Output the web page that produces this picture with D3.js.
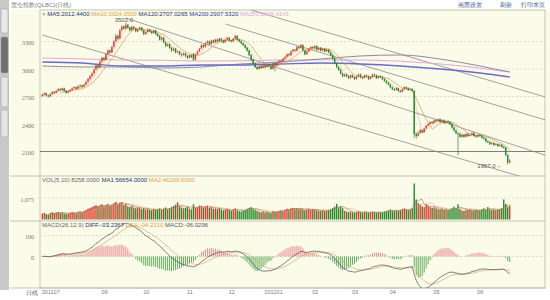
<!DOCTYPE html>
<html><head><meta charset="utf-8">
<script src="https://cdn.jsdelivr.net/npm/d3@7"></script>
<style>
html,body{margin:0;padding:0;background:#fff;}
svg{display:block;font-family:"Liberation Sans",Arial,sans-serif;}
</style></head><body>
<svg id="chart" width="550" height="300"></svg>
<script>
// ---- daily quotes ----
const openP = [
2705,2718,2738,2712,2702,2728,2752,2742,2762,2782,
2772,2788,2762,2742,2757,2772,2792,2802,2787,2812,
2822,2808,2832,2862,2893,2922,2955,2995,3042,3022,
3082,3124,3102,3164,3204,3182,3244,3304,3364,3334,
3424,3464,3442,3484,3452,3422,3462,3442,3412,3432,
3452,3422,3382,3402,3432,3412,3392,3422,3382,3362,
3322,3342,3292,3252,3272,3232,3202,3222,3182,3192,
3162,3152,3172,3142,3122,3152,3168,3102,3162,3192,
3222,3262,3242,3282,3302,3272,3312,3292,3322,3302,
3332,3312,3292,3322,3342,3312,3302,3332,3362,3322,
3302,3282,3262,3232,3202,3152,3102,3062,3022,3002,
3032,3012,3042,3022,3052,3032,3002,3062,3042,3072,
3092,3082,3112,3132,3162,3152,3192,3212,3202,3242,
3232,3262,3202,3162,3192,3222,3242,3232,3252,3212,
3232,3202,3222,3192,3212,3182,3152,3112,3062,3022,
2992,2952,2922,2942,2922,2902,2932,2912,2892,2922,
2942,2912,2902,2932,2922,2892,2912,2942,2932,2902,
2922,2912,2892,2872,2852,2832,2802,2782,2772,2792,
2762,2752,2782,2802,2792,2772,2782,2760,2292,2272,
2302,2332,2312,2352,2382,2402,2422,2412,2442,2432,
2452,2422,2442,2412,2432,2422,2402,2362,2332,2302,
2292,2262,2282,2262,2292,2272,2282,2302,2272,2262,
2282,2272,2252,2242,2212,2202,2182,2192,2172,2182,
2162,2172,2152,2142,2062,1982];
const highP = [
2730,2745,2742,2720,2735,2760,2758,2770,2790,2790,
2798,2795,2770,2765,2780,2800,2812,2808,2820,2832,
2828,2840,2870,2900,2935,2965,3005,3055,3050,3095,
3135,3130,3172,3215,3210,3255,3315,3380,3372,3435,
3478,3475,3502,3490,3460,3472,3465,3450,3442,3462,
3460,3430,3410,3442,3438,3420,3430,3428,3392,3370,
3352,3350,3300,3280,3278,3240,3232,3230,3200,3200,
3170,3180,3180,3150,3160,3158,3172,3170,3200,3230,
3270,3268,3290,3312,3310,3320,3320,3330,3330,3340,
3340,3322,3330,3350,3350,3320,3340,3372,3368,3330,
3310,3290,3270,3240,3210,3160,3110,3070,3030,3040,
3040,3050,3048,3060,3060,3040,3070,3070,3080,3100,
3100,3120,3140,3170,3170,3200,3220,3220,3250,3250,
3272,3270,3210,3200,3230,3250,3250,3260,3260,3240,
3240,3230,3230,3220,3220,3190,3160,3120,3070,3030,
3000,2960,2950,2950,2930,2940,2940,2920,2930,2950,
2950,2920,2940,2940,2930,2920,2950,2950,2940,2930,
2930,2920,2900,2880,2860,2840,2810,2790,2800,2800,
2770,2790,2810,2812,2800,2790,2790,2770,2310,2320,
2345,2340,2360,2390,2410,2430,2430,2450,2450,2460,
2460,2450,2450,2440,2440,2430,2410,2370,2340,2310,
2300,2290,2290,2300,2300,2290,2310,2310,2280,2290,
2290,2280,2260,2250,2220,2210,2200,2200,2190,2190,
2180,2180,2160,2150,2070,2020];
const lowP = [
2695,2710,2700,2688,2695,2720,2728,2735,2755,2760,
2765,2752,2730,2735,2750,2765,2782,2775,2780,2800,
2795,2800,2825,2850,2880,2910,2940,2985,3005,3010,
3070,3090,3095,3150,3170,3175,3235,3290,3320,3325,
3410,3430,3432,3440,3410,3412,3430,3400,3400,3425,
3410,3370,3372,3395,3400,3380,3385,3370,3350,3310,
3310,3280,3240,3245,3220,3190,3195,3170,3172,3150,
3135,3145,3130,3110,3115,3120,3090,3095,3155,3185,
3215,3230,3235,3275,3260,3265,3280,3285,3290,3295,
3300,3280,3285,3315,3300,3290,3295,3325,3310,3290,
3270,3250,3220,3190,3140,3090,3050,3010,2990,2995,
3000,3005,3010,3015,3020,2990,2995,2975,3035,3065,
3070,3075,3105,3125,3140,3145,3185,3190,3195,3220,
3225,3195,3150,3155,3185,3215,3220,3225,3200,3205,
3190,3195,3180,3185,3170,3140,3100,3050,3010,2980,
2940,2910,2912,2910,2890,2895,2900,2880,2885,2915,
2900,2890,2895,2910,2880,2885,2905,2920,2890,2895,
2900,2880,2860,2840,2820,2790,2770,2760,2765,2750,
2740,2745,2775,2780,2760,2765,2750,2250,2240,2262,
2295,2300,2305,2345,2375,2395,2400,2405,2420,2425,
2410,2415,2400,2405,2410,2390,2350,2320,2290,2060,
2250,2250,2250,2255,2260,2262,2275,2262,2250,2255,
2260,2240,2230,2200,2190,2170,2175,2160,2165,2150,
2150,2140,2130,2050,1957,1970];
const closeP = [
2720,2735,2710,2700,2725,2750,2740,2760,2780,2770,
2790,2760,2740,2755,2770,2790,2800,2785,2810,2820,
2805,2830,2860,2890,2920,2950,2990,3040,3020,3080,
3120,3100,3160,3200,3180,3240,3300,3360,3330,3420,
3460,3440,3480,3450,3420,3460,3440,3410,3430,3450,
3420,3380,3400,3430,3410,3390,3420,3380,3360,3320,
3340,3290,3250,3270,3230,3200,3220,3180,3190,3160,
3150,3170,3140,3120,3150,3130,3100,3160,3190,3220,
3260,3240,3280,3300,3270,3310,3290,3320,3300,3330,
3310,3290,3320,3340,3310,3300,3330,3360,3320,3300,
3280,3260,3230,3200,3150,3100,3060,3020,3000,3030,
3010,3040,3020,3050,3030,3000,3060,3040,3070,3090,
3080,3110,3130,3160,3150,3190,3210,3200,3240,3230,
3260,3200,3160,3190,3220,3240,3230,3250,3210,3230,
3200,3220,3190,3210,3180,3150,3110,3060,3020,2990,
2950,2920,2940,2920,2900,2930,2910,2890,2920,2940,
2910,2900,2930,2920,2890,2910,2940,2930,2900,2920,
2910,2890,2870,2850,2830,2800,2780,2770,2790,2760,
2750,2780,2800,2790,2770,2780,2760,2290,2270,2300,
2330,2310,2350,2380,2400,2420,2410,2440,2430,2450,
2420,2440,2410,2430,2420,2400,2360,2330,2300,2290,
2260,2280,2260,2290,2270,2280,2300,2270,2260,2280,
2270,2250,2240,2210,2200,2180,2190,2170,2180,2160,
2170,2150,2140,2060,1980,2000];
const volume = [
300,340,280,250,320,360,310,340,370,320,
350,300,270,290,330,370,350,310,380,410,
370,430,480,540,580,620,680,720,640,700,
760,660,720,780,680,740,820,880,760,840,
860,720,780,660,620,680,600,560,600,580,
520,560,500,540,480,460,520,480,500,560,
480,540,600,500,560,620,680,740,860,680,
600,560,580,640,540,500,760,580,620,700,
660,600,640,700,580,620,540,560,520,560,
500,460,480,540,480,440,500,560,460,420,
400,440,480,540,580,620,540,480,440,400,
360,400,350,380,340,320,430,370,400,430,
460,440,490,540,500,560,580,540,570,520,
560,500,460,500,540,480,520,490,460,440,
430,460,420,450,480,520,580,640,780,600,
660,560,440,400,370,390,360,340,370,400,
360,340,390,370,330,360,390,370,340,360,
370,340,400,430,460,500,450,420,460,430,
480,520,560,500,460,510,580,1800,1000,820,
740,660,620,760,680,620,580,610,560,520,
500,530,480,510,460,490,580,640,560,760,
520,460,430,490,470,510,460,440,490,470,
460,510,560,490,620,520,470,510,460,490,
520,580,1000,780,640,700];

// long moving averages, sampled every 20 sessions
const longIdx   = [0, 20, 40, 60, 80, 100, 120, 140, 160, 180, 200, 220, 235];
const ma120Vals = [3033, 3022, 3022, 3011, 3022, 3055, 3076, 3109, 3142, 3153, 3109, 3033, 2967];
const ma200Vals = [3076, 3065, 3033, 3033, 3044, 3044, 3055, 3065, 3055, 3033, 3000, 2956, 2913];
const ma250Vals = [3120, 3110, 3098, 3095, 3087, 3090, 3098, 3100, 3098, 3085, 3055, 3010, 2967];

// channel lines: [startIndex, startValue, endIndex, endValue]
const channels = [
  [0, 3371, 243, 1811],
  [42, 3556, 254, 2051],
  [92, 3491, 253, 2444],
  [105, 3644, 253, 2694]
];
const supportLevel = 2100;

// axis ticks
const priceTicks = [3300, 3000, 2700, 2400, 2100];
const volTicks = [1075];
const macdTicks = [100, 0];
const dateTickIdx = [4, 31, 52, 74, 95, 116, 137, 157, 176, 198, 220];
const dateTickLabel = ["201107", "09", "10", "11", "12", "201201", "02", "03", "04", "05", "06"];

const peakText = "3502.0";
const lowText = "1957.0";

// ---- layout ----
const svg = d3.select("#chart");
const L = 40, R = 545;
const mainTop = 10, mainBot = 176, volBot = 221, macdBot = 288;
const N = closeP.length;
const idx = d3.range(N);

const x = d3.scaleBand().domain(idx).range([41, 511]).padding(0.3);
const cx = i => x(i) + x.bandwidth() / 2;
const xl = d3.scaleLinear().domain([0, N - 1]).range([cx(0), cx(N - 1)]);

const y = d3.scaleLinear().domain([2100, 3300]).range([151.5, 41.5]);
const yv = d3.scaleLinear().domain([0, 1075]).range([219.5, 198]);
const ym = d3.scaleLinear().domain([0, 100]).range([256.5, 235.5]);

const UP = "#e23a2e", DOWN = "#24892a";

// page background
svg.append("rect").attr("width", 550).attr("height", 300).attr("fill", "#ffffff");
svg.append("rect").attr("x", 10).attr("y", 9).attr("width", 540).attr("height", 279).attr("fill", "#fbfbea");

// left side tab strip
svg.append("rect").attr("x", 0).attr("y", 0).attr("width", 9).attr("height", 290).attr("fill", "#c9c9c9");
const tabs = [[9, 33, "#e9e9e9"], [37, 73, "#6f6f6f"], [77, 107, "#e4e4e4"], [110, 137, "#e4e4e4"]];
tabs.forEach(t => svg.append("rect").attr("x", 1).attr("y", t[0]).attr("width", 7).attr("height", t[1] - t[0]).attr("rx", 1.5).attr("fill", t[2]).attr("stroke", "#9a9a9a").attr("stroke-width", 0.5));

// title and links
svg.append("text").attr("x", 11).attr("y", 7).attr("font-size", 6).attr("fill", "#777").text("宽仓指数(QLBC)(日线)");
[["画面设置", 458], ["刷新", 500], ["打印本页", 521]].forEach(d =>
  svg.append("text").attr("x", d[1]).attr("y", 7).attr("font-size", 6).attr("fill", "#3d5d8f").text(d[0]));

// panel frames
const frame = svg.append("g").attr("fill", "none").attr("stroke", "#b8b8a8").attr("stroke-width", 0.8);
frame.append("rect").attr("x", L).attr("y", mainTop).attr("width", R - L).attr("height", macdBot - mainTop);
[mainBot, volBot].forEach(v => frame.append("line").attr("x1", 10).attr("x2", R).attr("y1", v).attr("y2", v));
frame.append("line").attr("x1", 10).attr("x2", R).attr("y1", macdBot).attr("y2", macdBot);

// gridlines
const grid = svg.append("g").attr("stroke", "#cfcfbf").attr("stroke-width", 0.6).attr("stroke-dasharray", "2,2");
priceTicks.filter(v => v !== supportLevel).forEach(v => grid.append("line").attr("x1", L).attr("x2", R).attr("y1", y(v)).attr("y2", y(v)));
volTicks.forEach(v => grid.append("line").attr("x1", L).attr("x2", R).attr("y1", yv(v)).attr("y2", yv(v)));
macdTicks.forEach(v => grid.append("line").attr("x1", L).attr("x2", R).attr("y1", ym(v)).attr("y2", ym(v)));
svg.append("line").attr("x1", L).attr("x2", R).attr("y1", y(supportLevel)).attr("y2", y(supportLevel))
  .attr("stroke", "#6e6e6e").attr("stroke-width", 0.9);

// axes
function leftAxis(scale, ticks, fmt) {
  const g = svg.append("g").attr("transform", `translate(${L - 3},0)`)
    .call(d3.axisLeft(scale).tickValues(ticks).tickSize(0).tickFormat(fmt));
  g.select(".domain").remove();
  g.selectAll("text").attr("font-size", 6).attr("fill", "#777").attr("font-family", "Liberation Serif, serif").attr("dy", "0.5em");
}
leftAxis(y, priceTicks, d3.format("d"));
leftAxis(yv, volTicks, d3.format(","));
leftAxis(ym, macdTicks, d3.format("d"));

const xa = svg.append("g").attr("transform", `translate(0,${macdBot})`)
  .call(d3.axisBottom(xl).tickValues(dateTickIdx).tickSize(0).tickFormat((d, k) => dateTickLabel[k]));
xa.select(".domain").remove();
xa.selectAll("text").attr("font-size", 5.5).attr("fill", "#777").attr("dy", "0.75em").attr("y", 2);
svg.append("text").attr("x", 26).attr("y", 295).attr("font-size", 6).attr("fill", "#666").text("日线");

// clipping for price and MACD panels
svg.append("clipPath").attr("id", "clipMain").append("rect").attr("x", L).attr("y", mainTop).attr("width", R - L).attr("height", mainBot - mainTop);
svg.append("clipPath").attr("id", "clipMacd").append("rect").attr("x", L).attr("y", volBot).attr("width", R - L).attr("height", macdBot - volBot);

const main = svg.append("g").attr("clip-path", "url(#clipMain)");

// channel lines
channels.forEach(c => main.append("line")
  .attr("x1", xl(c[0])).attr("y1", y(c[1])).attr("x2", xl(c[2])).attr("y2", y(c[3]))
  .attr("stroke", "#8a8a8a").attr("stroke-width", 0.8));

// long moving averages
const longLine = d3.line().x(d => xl(d[0])).y(d => y(d[1])).curve(d3.curveMonotoneX);
[[ma250Vals, "#e3a6d6", 1], [ma120Vals, "#8c8c9c", 1], [ma200Vals, "#6a6ac8", 1.4]].forEach(m =>
  main.append("path").datum(longIdx.map((k, j) => [k, m[0][j]]))
    .attr("fill", "none").attr("stroke", m[1]).attr("stroke-width", m[2]).attr("d", longLine));

// short moving averages of close
function sma(arr, n) { return arr.map((v, i) => i < n - 1 ? null : d3.mean(arr.slice(i - n + 1, i + 1))); }
const ma5 = sma(closeP, 5), ma10 = sma(closeP, 10);
const shortLine = d3.line().defined(d => d[1] != null).x(d => xl(d[0])).y(d => y(d[1]));
main.append("path").datum(ma10.map((v, i) => [i, v])).attr("fill", "none").attr("stroke", "#d9a35a").attr("stroke-width", 0.8).attr("d", shortLine);
main.append("path").datum(ma5.map((v, i) => [i, v])).attr("fill", "none").attr("stroke", "#e28a8a").attr("stroke-width", 0.5).attr("opacity", 0.8).attr("d", shortLine);

// candles
const candles = main.selectAll("g.c").data(idx).join("g");
candles.append("line").attr("x1", cx).attr("x2", cx)
  .attr("y1", i => y(highP[i])).attr("y2", i => y(lowP[i]))
  .attr("stroke", i => closeP[i] >= openP[i] ? UP : DOWN).attr("stroke-width", 0.7);
candles.append("rect").attr("x", i => x(i)).attr("width", x.bandwidth())
  .attr("y", i => y(Math.max(openP[i], closeP[i])))
  .attr("height", i => Math.max(0.6, Math.abs(y(openP[i]) - y(closeP[i]))))
  .attr("fill", i => closeP[i] >= openP[i] ? UP : DOWN);

// extreme labels
const iPeak = d3.maxIndex(highP), iLow = d3.minIndex(lowP);
svg.append("text").attr("x", cx(iPeak) - 2).attr("y", y(highP[iPeak]) - 0.5).attr("text-anchor", "middle")
  .attr("font-size", 6).attr("fill", "#555").text(peakText);
svg.append("text").attr("x", cx(iLow) - 6).attr("y", y(lowP[iLow]) + 3).attr("text-anchor", "end")
  .attr("font-size", 6).attr("fill", "#555").text(lowText + "→");

// volume bars
svg.append("g").selectAll("rect").data(idx).join("rect")
  .attr("x", i => x(i)).attr("width", x.bandwidth())
  .attr("y", i => yv(volume[i])).attr("height", i => yv(0) - yv(volume[i]))
  .attr("fill", i => closeP[i] >= openP[i] ? UP : DOWN);
const vma5 = sma(volume, 5), vma10 = sma(volume, 10);
const volLine = d3.line().defined(d => d[1] != null).x(d => xl(d[0])).y(d => yv(d[1]));
svg.append("path").datum(vma5.map((v, i) => [i, v])).attr("fill", "none").attr("stroke", "#7a5a3a").attr("stroke-width", 0.5).attr("d", volLine);
svg.append("path").datum(vma10.map((v, i) => [i, v])).attr("fill", "none").attr("stroke", "#e09a6a").attr("stroke-width", 0.5).attr("d", volLine);

// MACD(26,12,9)
function ema(arr, n) { const k = 2 / (n + 1); const out = []; arr.forEach((v, i) => out.push(i === 0 ? v : out[i - 1] + k * (v - out[i - 1]))); return out; }
const e12 = ema(closeP, 12), e26 = ema(closeP, 26);
const diff = e12.map((v, i) => v - e26[i]);
const dea = ema(diff, 9);
const hist = diff.map((v, i) => 2 * (v - dea[i]));
const mg = svg.append("g").attr("clip-path", "url(#clipMacd)");
mg.selectAll("line").data(idx).join("line")
  .attr("x1", cx).attr("x2", cx).attr("y1", ym(0)).attr("y2", i => ym(hist[i]))
  .attr("stroke", i => hist[i] >= 0 ? "#e0707a" : "#3c9a3c").attr("stroke-width", 0.8);
const macdLine = d3.line().x((d, i) => xl(i)).y(d => ym(d));
mg.append("path").datum(dea).attr("fill", "none").attr("stroke", "#d8a868").attr("stroke-width", 0.7).attr("d", macdLine);
mg.append("path").datum(diff).attr("fill", "none").attr("stroke", "#4a4a4a").attr("stroke-width", 0.7).attr("d", macdLine);

// legends
function legend(yPos, items) {
  const t = svg.append("text").attr("x", 42).attr("y", yPos).attr("font-size", 6);
  items.forEach(it => t.append("tspan").attr("fill", it[1]).text(it[0] + " "));
}
legend(16, [["×", "#777"], ["MA5:2012.4400", "#22336a"], ["MA10:2024.3500", "#e0a040"], ["MA120:2707.0265", "#22336a"], ["MA200:2907.5320", "#2a3aa0"], ["MA250:2905.4141", "#e0a6d8"]]);
legend(182, [["VOL(5,10) 8258.0000", "#666"], ["MA1:56654.0000", "#22336a"], ["MA2:46209.6000", "#e0a040"]]);
legend(227, [["MACD(26,12,9)", "#666"], ["DIFF:-03.2367", "#22336a"], ["DEA:-04.2210", "#e0a040"], ["MACD:-06.0296", "#555"]]);
</script>
</body></html>
